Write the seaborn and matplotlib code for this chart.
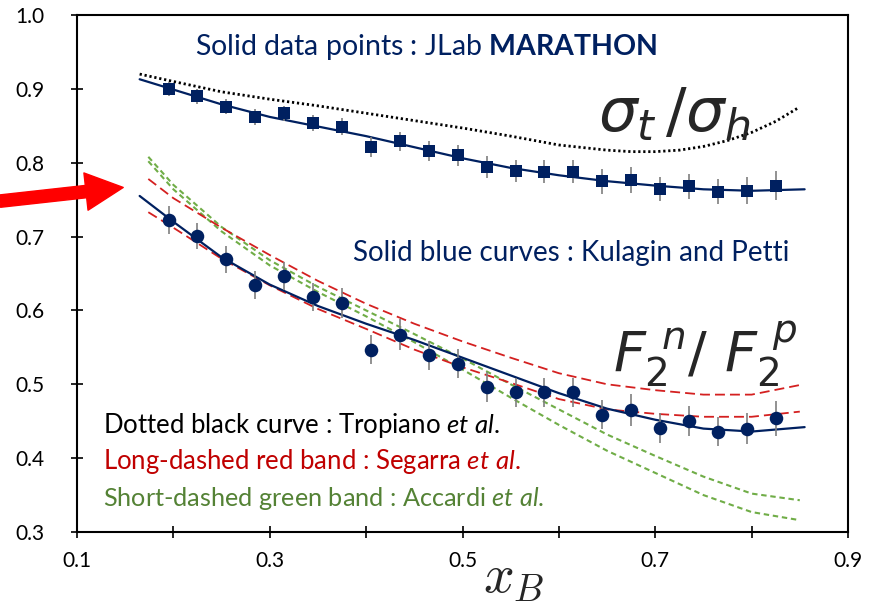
import numpy as np
import pandas as pd
import matplotlib
matplotlib.use("Agg")
import matplotlib.pyplot as plt
from matplotlib.ticker import MultipleLocator
import seaborn as sns

# JLab MARATHON data points
x_data = [0.195, 0.225, 0.255, 0.285, 0.315, 0.345, 0.375, 0.405, 0.435, 0.465, 0.495,
          0.525, 0.555, 0.585, 0.615, 0.645, 0.675, 0.705, 0.735, 0.765, 0.795, 0.825]
sigma_ratio = [0.900, 0.890, 0.876, 0.862, 0.867, 0.854, 0.849, 0.821, 0.829, 0.816, 0.810,
               0.794, 0.789, 0.788, 0.788, 0.775, 0.777, 0.764, 0.768, 0.761, 0.762, 0.769]
sigma_err = [0.009, 0.010, 0.010, 0.011, 0.010, 0.011, 0.012, 0.0135, 0.013, 0.014, 0.014,
             0.015, 0.015, 0.016, 0.016, 0.017, 0.0175, 0.0165, 0.017, 0.0175, 0.018, 0.020]
f2_ratio = [0.723, 0.701, 0.669, 0.634, 0.647, 0.618, 0.610, 0.547, 0.567, 0.539, 0.528,
            0.496, 0.489, 0.489, 0.489, 0.459, 0.465, 0.441, 0.450, 0.436, 0.440, 0.454]
f2_err = [0.019, 0.018, 0.018, 0.019, 0.019, 0.019, 0.020, 0.020, 0.021, 0.020, 0.020,
          0.020, 0.020, 0.020, 0.020, 0.020, 0.022, 0.020, 0.020, 0.020, 0.021, 0.024]

# Kulagin and Petti (solid blue) and Tropiano (dotted black)
x_kp = [0.165, 0.20, 0.25, 0.30, 0.35, 0.40, 0.45, 0.50, 0.55, 0.60, 0.65, 0.70, 0.75, 0.80, 0.855]
kp_sigma = [0.913, 0.899, 0.879, 0.862, 0.849, 0.836, 0.821, 0.806, 0.793, 0.783, 0.775, 0.769, 0.764, 0.762, 0.764]
kp_f2 = [0.755, 0.720, 0.672, 0.635, 0.606, 0.582, 0.560, 0.536, 0.512, 0.488, 0.467, 0.452, 0.440, 0.436, 0.442]
x_trop = [0.165, 0.20, 0.25, 0.30, 0.35, 0.40, 0.45, 0.50, 0.55, 0.60, 0.65, 0.675, 0.70,
          0.725, 0.75, 0.775, 0.80, 0.825, 0.848]
tropiano = [0.920, 0.910, 0.896, 0.886, 0.877, 0.867, 0.857, 0.847, 0.836, 0.824, 0.817, 0.815, 0.815,
            0.817, 0.822, 0.830, 0.841, 0.856, 0.874]

# Segarra (long-dashed red band) and Accardi (short-dashed green band)
x_band = [0.174, 0.20, 0.25, 0.30, 0.35, 0.40, 0.45, 0.50, 0.55, 0.60, 0.65, 0.70, 0.75, 0.80, 0.85]
seg_hi = [0.778, 0.752, 0.712, 0.675, 0.640, 0.609, 0.582, 0.558, 0.536, 0.515, 0.500, 0.492, 0.486, 0.486, 0.499]
seg_lo = [0.733, 0.712, 0.670, 0.634, 0.602, 0.575, 0.547, 0.523, 0.502, 0.480, 0.466, 0.460, 0.456, 0.456, 0.463]
acc_hi = [0.808, 0.770, 0.713, 0.668, 0.632, 0.600, 0.568, 0.535, 0.500, 0.466, 0.432, 0.403, 0.375, 0.352, 0.343]
acc_lo = [0.802, 0.764, 0.707, 0.661, 0.625, 0.592, 0.557, 0.520, 0.482, 0.445, 0.410, 0.380, 0.350, 0.327, 0.316]

NAVY = "#002060"
RED = "#C00000"
GREEN = "#548235"

sns.set_theme(style="ticks")
plt.rcParams['font.family'] = ['Lato', 'DejaVu Sans']
plt.rcParams['mathtext.fontset'] = 'custom'
plt.rcParams['mathtext.rm'] = 'Lato'
plt.rcParams['mathtext.it'] = 'Lato:italic'
plt.rcParams['mathtext.bf'] = 'Lato:bold'

pts = pd.DataFrame({'x': x_data, 'sigma': sigma_ratio, 'sigma_err': sigma_err,
                    'f2': f2_ratio, 'f2_err': f2_err})

fig = plt.figure(figsize=(8.77, 6.09), dpi=100)
ax = fig.add_axes([77 / 877, 1 - 532 / 609, (848 - 77) / 877, (532 - 15) / 609])

# bands
for hi_lo in (acc_hi, acc_lo):
    sns.lineplot(x=x_band, y=hi_lo, ax=ax, color="#70AD47", lw=1.5,
                 linestyle=(0, (2.6, 1.8)), sort=False, estimator=None)
for hi_lo in (seg_hi, seg_lo):
    sns.lineplot(x=x_band, y=hi_lo, ax=ax, color="#D42020", lw=1.3,
                 linestyle=(0, (5.5, 2.8)), sort=False, estimator=None)

# theory curves
sns.lineplot(x=x_trop, y=tropiano, ax=ax, color="black", lw=2.0,
             linestyle=(0, (0.8, 1.0)), sort=False, estimator=None)
sns.lineplot(x=x_kp, y=kp_sigma, ax=ax, color=NAVY, lw=1.6, sort=False, estimator=None)
sns.lineplot(x=x_kp, y=kp_f2, ax=ax, color=NAVY, lw=1.6, sort=False, estimator=None)

# data with error bars
ax.errorbar(pts['x'], pts['sigma'], yerr=pts['sigma_err'], fmt='none', ecolor='#7F7F7F',
            elinewidth=1.2, zorder=3)
ax.errorbar(pts['x'], pts['f2'], yerr=pts['f2_err'], fmt='none', ecolor='#7F7F7F',
            elinewidth=1.2, zorder=3)
sns.scatterplot(data=pts, x='x', y='sigma', marker='s', s=85, color=NAVY,
                edgecolor=NAVY, linewidth=0, ax=ax, zorder=4)
sns.scatterplot(data=pts, x='x', y='f2', marker='o', s=95, color=NAVY,
                edgecolor=NAVY, linewidth=0, ax=ax, zorder=4)

ax.set_xlim(0.1, 0.9)
ax.set_ylim(0.3, 1.0)
ax.xaxis.set_minor_locator(MultipleLocator(0.1))
ax.set_xticks([0.1, 0.3, 0.5, 0.7, 0.9])
ax.set_xticklabels(['0.1', '0.3', '0.5', '0.7', '0.9'])
ax.set_yticks([0.3, 0.4, 0.5, 0.6, 0.7, 0.8, 0.9, 1.0])
ax.set_yticklabels(['0.3', '0.4', '0.5', '0.6', '0.7', '0.8', '0.9', '1.0'])
ax.tick_params(axis='both', which='both', direction='inout', length=9, width=1.2,
               colors='black')
ax.tick_params(axis='x', which='major', pad=9, labelsize=15)
ax.tick_params(axis='y', which='major', pad=19, labelsize=15)
for sp in ax.spines.values():
    sp.set_visible(True)
    sp.set_color('black')
    sp.set_linewidth(1.5)
ax.set_xlabel('')
ax.set_ylabel('')

# annotations
ax.text(0.462, 0.957, r"Solid data points : JLab $\mathbf{MARATHON}$", color=NAVY,
        fontsize=20.5, ha='center', va='center')
ax.text(0.6125, 0.678, "Solid blue curves : Kulagin and Petti", color=NAVY,
        fontsize=20, ha='center', va='center')
ax.text(0.127, 0.444, r"Dotted black curve : Tropiano $\mathit{et\ al.}$", color='black',
        fontsize=18.5, ha='left', va='center')
ax.text(0.127, 0.395, r"Long-dashed red band : Segarra $\mathit{et\ al.}$", color=RED,
        fontsize=18.5, ha='left', va='center')
ax.text(0.127, 0.346, r"Short-dashed green band : Accardi $\mathit{et\ al.}$", color=GREEN,
        fontsize=18.2, ha='left', va='center')
ax.text(0.720, 0.866, r"$\sigma_t\,/\sigma_h$", fontsize=44, ha='center', va='center',
        math_fontfamily='dejavusans')
ax.text(0.752, 0.540, r"$F_2^{\ n}/\ F_2^{\ p}$", fontsize=40, ha='center', va='center',
        math_fontfamily='dejavusans')
ax.text(0.553, 0.236, r"$x_B$", fontsize=39, ha='center', va='center',
        math_fontfamily='cm', clip_on=False)

# red arrow pointing at the low-x end of the curves
ax.annotate("", xy=(0.148, 0.7665), xytext=(0.02, 0.748), annotation_clip=False,
            arrowprops=dict(arrowstyle="simple,head_length=1.0,head_width=1.0,tail_width=0.33",
                            mutation_scale=27, color='red', shrinkA=0, shrinkB=0))

fig.savefig("out.png", dpi=100)
